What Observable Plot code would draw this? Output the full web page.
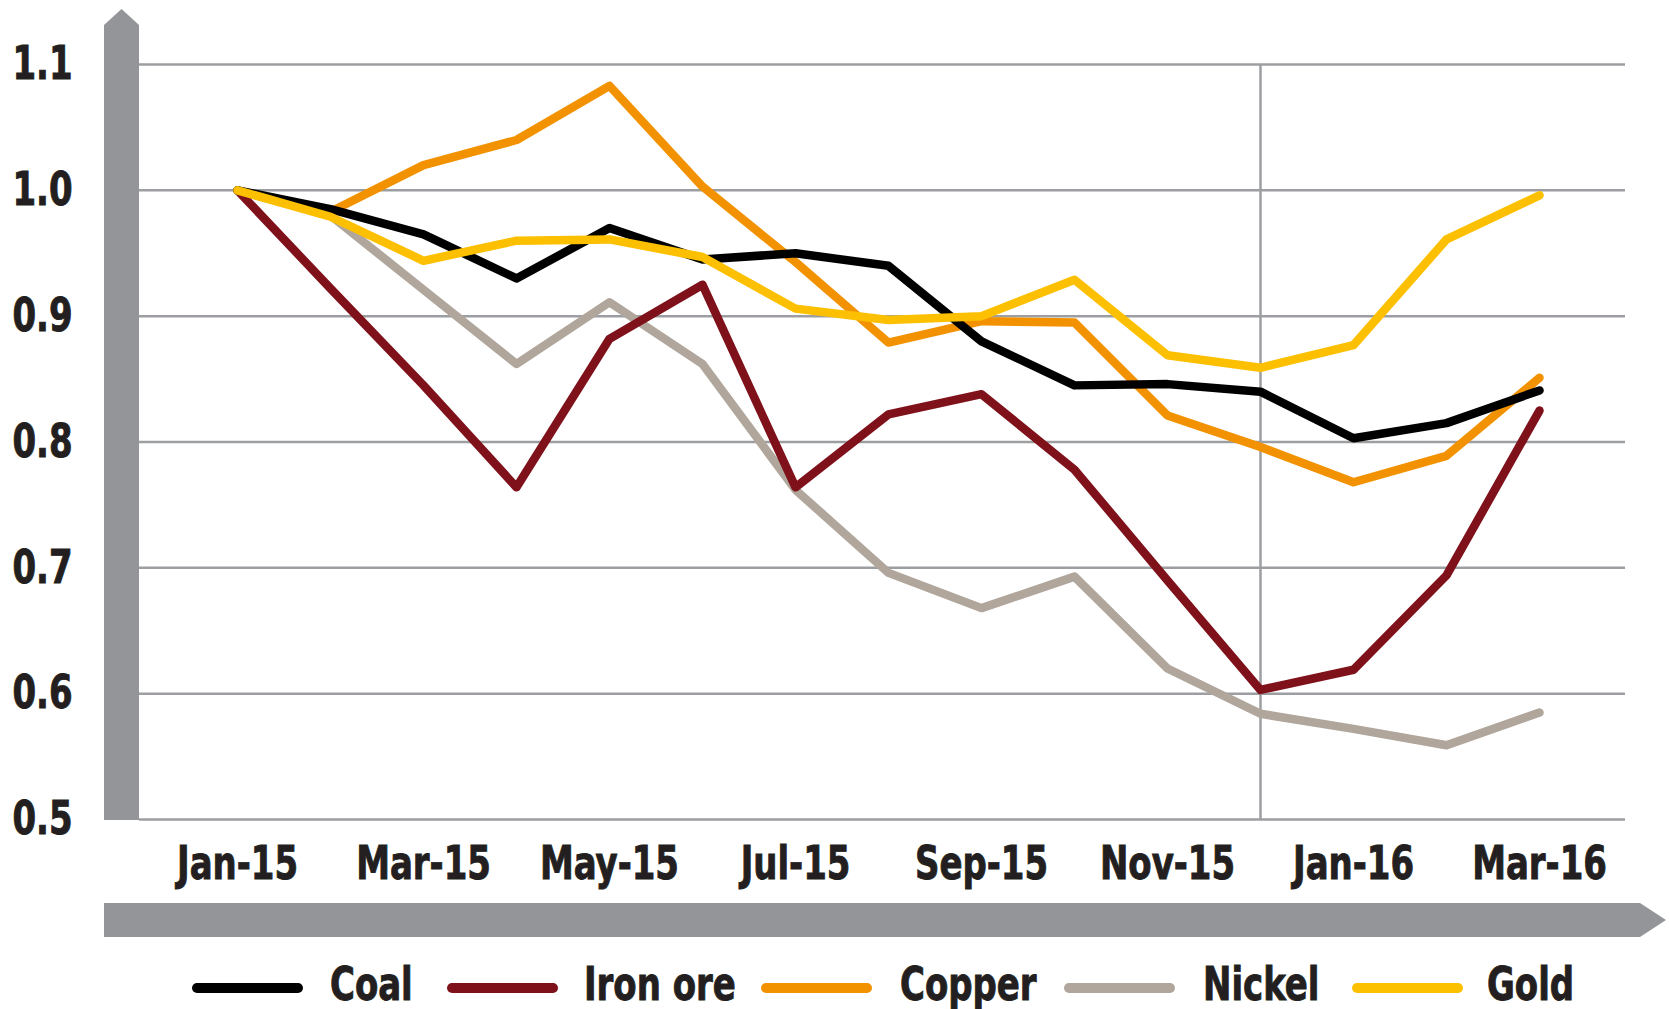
<!DOCTYPE html>
<html>
<head>
<meta charset="utf-8">
<script src="https://cdn.jsdelivr.net/npm/d3@7"></script>
<script src="https://cdn.jsdelivr.net/npm/@observablehq/plot@0.6"></script>
<style>
  html, body { margin: 0; padding: 0; background: #ffffff; }
  body { position: relative; width: 1669px; height: 1009px; overflow: hidden; font-family: "Liberation Sans Narrow", "Arial Narrow", "DejaVu Sans Condensed", sans-serif; font-weight: bold; color: #231f20; }
  #chart svg { display: block; }
  #chart svg text { stroke: #231f20; stroke-width: 0.9px; }
  #legend { position: absolute; left: 0; top: 0; width: 1669px; height: 1009px; pointer-events: none; }
  .sw { position: absolute; width: 111px; height: 10px; border-radius: 5px; top: 983px; }
  .lt { position: absolute; top: 961px; font-size: 46px; line-height: 46px; white-space: nowrap; transform: scaleX(0.82); transform-origin: 0 50%; -webkit-text-stroke: 0.9px #231f20; }
</style>
</head>
<body>
<div id="chart"></div>
<div id="legend"></div>
<script>
// ---- data ----
const months = ["Jan-15","Feb-15","Mar-15","Apr-15","May-15","Jun-15","Jul-15","Aug-15","Sep-15","Oct-15","Nov-15","Dec-15","Jan-16","Feb-16","Mar-16"];
const tickLabels = ["Jan-15","Mar-15","May-15","Jul-15","Sep-15","Nov-15","Jan-16","Mar-16"];
const yTicks = [0.5, 0.6, 0.7, 0.8, 0.9, 1.0, 1.1];
const markerMonth = ["Dec-15"];

const seriesNames = ["Coal", "Iron ore", "Copper", "Nickel", "Gold"];
const seriesColors = ["#000000", "#7f111b", "#f39200", "#b0a69c", "#fcc000"];

const coal    = [1.000, 0.985, 0.965, 0.930, 0.970, 0.945, 0.950, 0.940, 0.880, 0.845, 0.846, 0.840, 0.803, 0.815, 0.841];
const ironOre = [1.000, 0.922, 0.845, 0.764, 0.882, 0.925, 0.764, 0.822, 0.838, 0.778, 0.690, 0.603, 0.619, 0.694, 0.825];
const copper  = [1.000, 0.983, 1.020, 1.040, 1.083, 1.003, 0.943, 0.879, 0.896, 0.895, 0.821, 0.796, 0.768, 0.789, 0.851];
const nickel  = [1.000, 0.980, 0.921, 0.862, 0.911, 0.862, 0.762, 0.696, 0.668, 0.693, 0.620, 0.584, 0.572, 0.559, 0.585];
const gold    = [1.000, 0.979, 0.944, 0.960, 0.961, 0.947, 0.906, 0.897, 0.900, 0.929, 0.869, 0.859, 0.877, 0.961, 0.996];

const seriesValues = {"Coal": coal, "Iron ore": ironOre, "Copper": copper, "Nickel": nickel, "Gold": gold};
const drawOrder = ["Nickel", "Iron ore", "Copper", "Coal", "Gold"];

const table = drawOrder.flatMap(name => seriesValues[name].map((v, i) => ({series: name, month: months[i], value: v})));

// ---- layout ----
const W = 1669, H = 950;
const mLeft = 139, mRight = 44, mTop = 64, mBottom = 131;
const FONT = '"Liberation Sans Narrow", "Arial Narrow", "DejaVu Sans Condensed", sans-serif';
const barGray = "#939598";
const gridGray = "#9c9ea1";
const squeeze = 0.82;

const chart = Plot.plot({
  width: W,
  height: H,
  marginLeft: mLeft,
  marginRight: mRight,
  marginTop: mTop,
  marginBottom: mBottom,
  style: {fontFamily: FONT, fontSize: "46px", fontWeight: "bold", color: "#231f20", background: "#ffffff", overflow: "visible"},
  x: {type: "point", domain: months, padding: 0.947, align: 0.53, ticks: tickLabels, tickSize: 0, tickPadding: 27, label: null},
  y: {domain: [0.5, 1.1], ticks: yTicks, tickFormat: d3.format(".1f"), tickSize: 0, tickPadding: 67, label: null},
  color: {domain: seriesNames, range: seriesColors},
  marks: [
    Plot.ruleY(yTicks, {stroke: gridGray, strokeWidth: 2.5}),
    Plot.ruleX(markerMonth, {stroke: gridGray, strokeWidth: 2.5}),
    Plot.line(table, {x: "month", y: "value", z: "series", stroke: "series", strokeWidth: 8.5, strokeLinecap: "round", strokeLinejoin: "round"})
  ]
});

document.getElementById("chart").appendChild(chart);

// condense the axis text horizontally (keeps each label's anchor)
chart.querySelectorAll("text").forEach(el => {
  const w = el.getComputedTextLength();
  if (w > 0) {
    el.setAttribute("textLength", (w * squeeze).toFixed(2));
    el.setAttribute("lengthAdjust", "spacingAndGlyphs");
  }
});

// decorative axis arrows
const svg = d3.select(chart);
const barW = 35;
const vx0 = mLeft - barW, vx1 = mLeft;
const yBottom = H - mBottom + 1;
svg.append("path")
  .attr("fill", barGray)
  .attr("d", `M${vx0},${yBottom}V25L${(vx0 + vx1) / 2},9L${vx1},25V${yBottom}Z`);
const hy0 = 903, hy1 = 937;
svg.append("path")
  .attr("fill", barGray)
  .attr("d", `M${vx0},${hy0}H${W - 29}L${W - 3},${(hy0 + hy1) / 2}L${W - 29},${hy1}H${vx0}Z`);

// legend (below the chart)
const swatchLeft = [192, 447, 761, 1064, 1352];
const textLeft = [330, 584, 900, 1203, 1487];
const legend = d3.select("#legend");
seriesNames.forEach((name, i) => {
  legend.append("div").attr("class", "sw").style("left", swatchLeft[i] + "px").style("background", seriesColors[i]);
  legend.append("span").attr("class", "lt").style("left", textLeft[i] + "px").text(name);
});
</script>
</body>
</html>
